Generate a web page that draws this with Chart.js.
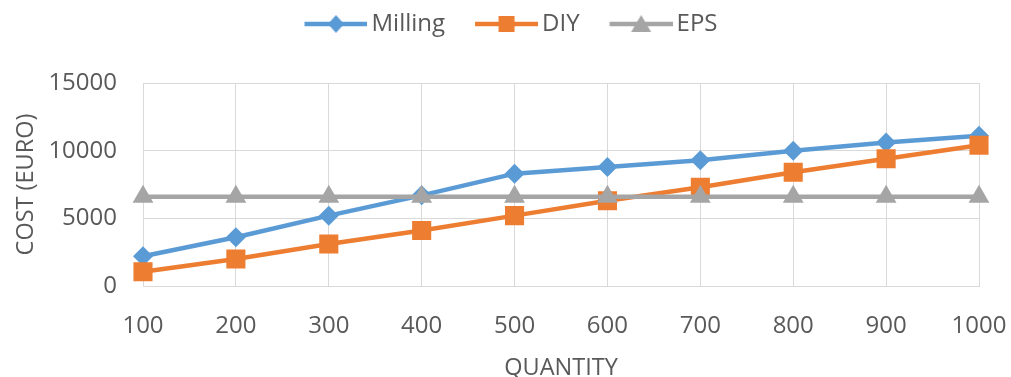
<!DOCTYPE html>
<html>
<head>
<meta charset="utf-8">
<script src="https://cdn.jsdelivr.net/npm/chart.js@4/dist/chart.umd.min.js"></script>
<style>
  html, body { margin: 0; padding: 0; background: #ffffff; }
  #wrap { width: 1011px; height: 377px; }
</style>
</head>
<body>
<div id="wrap"><canvas id="chart" width="1011" height="377"></canvas></div>
<script>
// Production quantity (x axis)
const quantities = ['100', '200', '300', '400', '500', '600', '700', '800', '900', '1000'];

// Total cost in euro for each production method
const millingCost = [2200, 3600, 5200, 6700, 8300, 8800, 9300, 10000, 10600, 11100];
const diyCost     = [1050, 2000, 3100, 4100, 5200, 6300, 7300, 8400, 9400, 10400];
const epsCost     = [6600, 6600, 6600, 6600, 6600, 6600, 6600, 6600, 6600, 6600];

// Y axis tick values
const costTicks = [0, 5000, 10000, 15000];

const seriesNames = ['Milling', 'DIY', 'EPS'];

const BLUE = '#5B9BD5';
const ORANGE = '#ED7D31';
const GREY = '#A5A5A5';
const TEXT = '#595959';
const GRID = '#D9D9D9';
const FONT = "'Open Sans', 'DejaVu Sans', sans-serif";

// Legend swatch: a short line with the series marker in the middle
function legendSwatch(color, shape) {
  const c = document.createElement('canvas');
  c.width = 96; c.height = 26;
  const g = c.getContext('2d');
  const x0 = 33, x1 = 96, cy = 13, cx = (x0 + x1) / 2;
  g.strokeStyle = color;
  g.lineWidth = 4.5;
  g.beginPath(); g.moveTo(x0, cy); g.lineTo(x1, cy); g.stroke();
  g.fillStyle = color;
  g.beginPath();
  if (shape === 'diamond') {
    g.moveTo(cx, cy - 9); g.lineTo(cx + 8, cy); g.lineTo(cx, cy + 9); g.lineTo(cx - 8, cy);
  } else if (shape === 'square') {
    g.rect(cx - 8, cy - 8, 16, 16);
  } else {
    g.moveTo(cx, cy - 9); g.lineTo(cx + 10, cy + 8); g.lineTo(cx - 10, cy + 8);
  }
  g.closePath(); g.fill();
  return c;
}

const swatches = [
  legendSwatch(BLUE, 'diamond'),
  legendSwatch(ORANGE, 'square'),
  legendSwatch(GREY, 'triangle')
];

const PAD_LEFT = 18;
const ctx = document.getElementById('chart').getContext('2d');

new Chart(ctx, {
  type: 'line',
  data: {
    labels: quantities,
    datasets: [
      {
        label: seriesNames[0], data: millingCost, order: 3,
        borderColor: BLUE, backgroundColor: BLUE, borderWidth: 4.5,
        pointStyle: 'rectRot', pointRadius: 10, pointBorderWidth: 0,
        pointBackgroundColor: BLUE, tension: 0
      },
      {
        label: seriesNames[1], data: diyCost, order: 2,
        borderColor: ORANGE, backgroundColor: ORANGE, borderWidth: 4.5,
        pointStyle: 'rect', pointRadius: 13.5, pointBorderWidth: 0,
        pointBackgroundColor: ORANGE, tension: 0
      },
      {
        label: seriesNames[2], data: epsCost, order: 1,
        borderColor: GREY, backgroundColor: GREY, borderWidth: 4.5,
        pointStyle: 'triangle', pointRadius: 12, pointBorderWidth: 0,
        pointBackgroundColor: GREY, tension: 0
      }
    ]
  },
  options: {
    responsive: false,
    animation: false,
    devicePixelRatio: 1,
    layout: { padding: { top: 7, right: 32, bottom: 0, left: PAD_LEFT } },
    plugins: {
      tooltip: { enabled: false },
      legend: {
        position: 'top',
        labels: {
          usePointStyle: true,
          pointStyleWidth: 80,
          padding: 5,
          color: TEXT,
          font: { family: FONT, size: 24 },
          generateLabels: (chart) => chart.data.datasets.map((ds, i) => ({
            text: ds.label,
            datasetIndex: i,
            pointStyle: swatches[i],
            fillStyle: ds.borderColor,
            strokeStyle: ds.borderColor,
            lineWidth: 0,
            fontColor: TEXT,
            hidden: false
          }))
        }
      },
      subtitle: {
        display: true,
        text: '',
        weight: 500,
        font: { size: 1, lineHeight: 1 },
        padding: { top: 0, bottom: 36 }
      }
    },
    scales: {
      x: {
        type: 'category',
        offset: false,
        grid: { color: GRID, lineWidth: 1, drawTicks: false, offset: false },
        border: { color: GRID, width: 1 },
        ticks: { color: TEXT, font: { family: FONT, size: 24 }, padding: 26, maxRotation: 0, autoSkip: false },
        title: { display: true, text: 'QUANTITY', color: TEXT, font: { family: FONT, size: 23.5, lineHeight: 1 }, padding: { top: 0, bottom: -3 } },
        afterFit: (s) => { s.height = 91; s.paddingRight = 0; s.paddingLeft = 0; }
      },
      y: {
        min: 0, max: 15000,
        grid: { color: GRID, lineWidth: 1, drawTicks: false },
        border: { color: GRID, width: 1 },
        afterBuildTicks: (s) => { s.ticks = costTicks.map(v => ({ value: v })); },
        ticks: { color: TEXT, font: { family: FONT, size: 24 }, padding: 26, callback: (v) => String(v) },
        title: { display: true, text: 'COST (EURO)', color: TEXT, font: { family: FONT, size: 23.5, lineHeight: 1 }, padding: { top: -3, bottom: 0 } },
        afterFit: (s) => { s.width = 143 - PAD_LEFT; }
      }
    }
  }
});
</script>
</body>
</html>
